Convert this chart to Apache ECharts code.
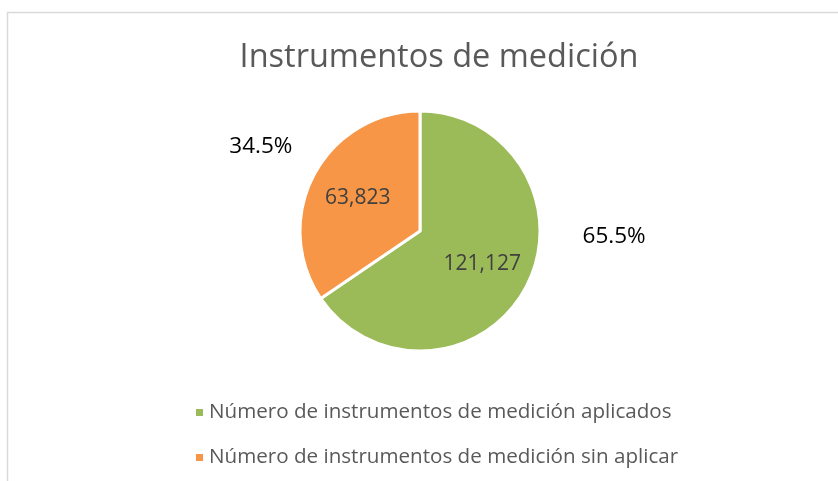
<!DOCTYPE html>
<html>
<head>
<meta charset="utf-8">
<script src="https://cdn.jsdelivr.net/npm/echarts@6/dist/echarts.min.js"></script>
<style>
  html, body { margin: 0; padding: 0; background: #fff; }
  #pie_data { width: 838px; height: 481px; }
</style>
</head>
<body>
<div id="pie_data"></div>
<script>
  var titleText = 'Instrumentos de medición';
  var categories = ['Número de instrumentos de medición aplicados', 'Número de instrumentos de medición sin aplicar'];
  var values = [121127, 63823];
  var colors = ['#9BBB59', '#F79646'];

  var chartDom = document.getElementById('pie_data');
  var myChart = echarts.init(chartDom);
  var font = '"Open Sans", sans-serif';
  var total = values[0] + values[1];

  var data = categories.map(function (c, i) {
    return { name: c, value: values[i] };
  });
  var center = [420, 231];

  var option = {
    animation: false,
    color: colors,
    title: {
      text: titleText,
      left: 434,
      textAlign: 'center',
      top: 36,
      textStyle: { fontFamily: font, fontSize: 32.5, fontWeight: 'normal', color: '#595959' }
    },
    graphic: [{
      type: 'rect',
      shape: { x: 7.5, y: 12.5, width: 900, height: 600 },
      style: { fill: 'none', stroke: '#d9d9d9', lineWidth: 1.5 },
      silent: true
    }],
    legend: {
      orient: 'vertical',
      left: 189,
      top: 397,
      itemWidth: 9,
      itemHeight: 9,
      itemGap: 24,
      icon: 'rect',
      data: categories,
      textStyle: { fontFamily: font, fontSize: 20.6, color: '#595959' }
    },
    series: [
      {
        name: 'pie',
        type: 'pie',
        center: center,
        radius: [0, 120],
        startAngle: 90,
        data: data,
        itemStyle: { borderColor: '#fff', borderWidth: 3 },
        label: { show: false },
        labelLine: { show: false }
      },
      {
        name: 'values',
        type: 'pie',
        center: center,
        radius: [0, 135],
        startAngle: 90,
        silent: true,
        data: data,
        itemStyle: { color: 'transparent' },
        label: {
          show: true,
          position: 'inside',
          fontFamily: font,
          fontSize: 21,
          color: '#404040',
          formatter: function (p) { return p.value.toLocaleString('en-US'); }
        },
        labelLine: { show: false }
      },
      {
        name: 'percent',
        type: 'pie',
        center: center,
        radius: [167, 187],
        startAngle: 90,
        silent: true,
        data: data,
        itemStyle: { color: 'transparent' },
        label: {
          show: true,
          position: 'inside',
          fontFamily: font,
          fontSize: 22.5,
          color: '#000',
          formatter: function (p) { return (p.value / total * 100).toFixed(1) + '%'; }
        },
        labelLayout: function (p) {
          return p.dataIndex === 0 ? { dx: 35, dy: -79 } : {};
        },
        labelLine: { show: false }
      }
    ]
  };
  option && myChart.setOption(option);
</script>
</body>
</html>
